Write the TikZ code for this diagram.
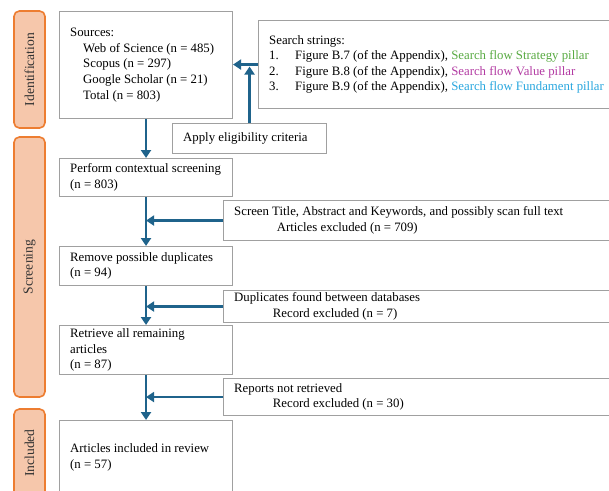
\documentclass[tikz,border=0pt]{standalone}
\usepackage{fontspec}
\setmainfont{Liberation Serif}
\usetikzlibrary{arrows.meta}
\definecolor{flowblue}{RGB}{31,99,139}
\definecolor{boxgray}{RGB}{160,160,160}
\definecolor{phaseedge}{RGB}{237,125,49}
\definecolor{phasefill}{RGB}{246,199,171}
\definecolor{stratgreen}{RGB}{88,170,66}
\definecolor{valuepink}{RGB}{178,58,162}
\definecolor{fundcyan}{RGB}{40,166,222}
\begin{document}
\begin{tikzpicture}[x=0.75pt,y=-0.75pt,
    every node/.style={font=\fontsize{9.6}{11.7}\selectfont},
    box/.style={draw=boxgray, line width=0.8pt, anchor=north west, align=flush left, inner xsep=8pt, inner ysep=0pt},
    phase/.style={draw=phaseedge, fill=phasefill, line width=1.2pt, rounded corners=4pt, rotate=90,
        minimum height=23.25pt, inner sep=0pt, text=black!80, font=\fontsize{10.2}{12}\selectfont},
    flow/.style={draw=flowblue, line width=1.9pt, -{Triangle[length=6pt,width=7.5pt]}}]
    \useasboundingbox (0,0) rectangle (609,490);

    \node[phase, minimum width=87.75pt] (idlab) at (29.5,69.5) {Identification};
    \node[phase, minimum width=195pt] (scrlab) at (29.5,267) {Screening};
    \node[phase, minimum width=66pt] (inclab) at (29.5,453) {Included};

    \node[box, minimum width=129.75pt, minimum height=80.25pt, text width=113.75pt] (sources) at (59,11)
        {Sources:\\
         \hspace*{9.75pt}Web of Science (n = 485)\\
         \hspace*{9.75pt}Scopus (n = 297)\\
         \hspace*{9.75pt}Google Scholar (n = 21)\\
         \hspace*{9.75pt}Total (n = 803)};
    \node[box, minimum width=270pt, minimum height=66pt, text width=254pt] (search) at (258,20)
        {Search strings:\\
         \makebox[19.5pt][l]{1.}Figure B.7 (of the Appendix), \textcolor{stratgreen}{Search flow Strategy pillar}\\
         \makebox[19.5pt][l]{2.}Figure B.8 (of the Appendix), \textcolor{valuepink}{Search flow Value pillar}\\
         \makebox[19.5pt][l]{3.}Figure B.9 (of the Appendix), \textcolor{fundcyan}{Search flow Fundament pillar}};
    \node[box, minimum width=115.5pt, minimum height=22.5pt, text width=99.5pt] (apply) at (172,123)
        {Apply eligibility criteria};

    \node[box, minimum width=129.75pt, minimum height=28.5pt, text width=113.75pt] (perform) at (59,158)
        {Perform contextual screening\\(n = 803)};
    \node[box, minimum width=296.25pt, minimum height=30pt, text width=280.25pt] (screen) at (223,200)
        {Screen Title, Abstract and Keywords, and possibly scan full text\\
         \hspace*{32pt}Articles excluded (n = 709)};
    \node[box, minimum width=129.75pt, minimum height=29.25pt, text width=113.75pt] (remove) at (59,246)
        {Remove possible duplicates\\(n = 94)};
    \node[box, minimum width=296.25pt, minimum height=24pt, text width=280.25pt] (dupl) at (223,290)
        {Duplicates found between databases\\
         \hspace*{29pt}Record excluded (n = 7)};
    \node[box, minimum width=129.75pt, minimum height=36.75pt, text width=113.75pt] (retrieve) at (59,325)
        {Retrieve all remaining\\articles\\(n = 87)};
    \node[box, minimum width=296.25pt, minimum height=27.75pt, text width=280.25pt] (reports) at (223,378)
        {Reports not retrieved\\
         \hspace*{29pt}Record excluded (n = 30)};
    \node[box, minimum width=129.75pt, minimum height=55.5pt, text width=113.75pt] (included) at (59,420)
        {Articles included in review\\(n = 57)};

    \draw[flow] (search.west) -- (search.west -| sources.east);
    \draw[flow, shorten >=1.5pt] (apply.north) -- (apply.north |- search.west);
    \draw[flow] (sources.south) -- (perform.north);
    \draw[flow] (perform.south) -- (remove.north);
    \draw[flow] (remove.south) -- (retrieve.north);
    \draw[flow] (retrieve.south) -- (included.north);
    \draw[flow] (screen.west) -- (screen.west -| perform.south);
    \draw[flow] (dupl.west) -- (dupl.west -| remove.south);
    \draw[flow] (reports.west) -- (reports.west -| retrieve.south);
\end{tikzpicture}
\end{document}
